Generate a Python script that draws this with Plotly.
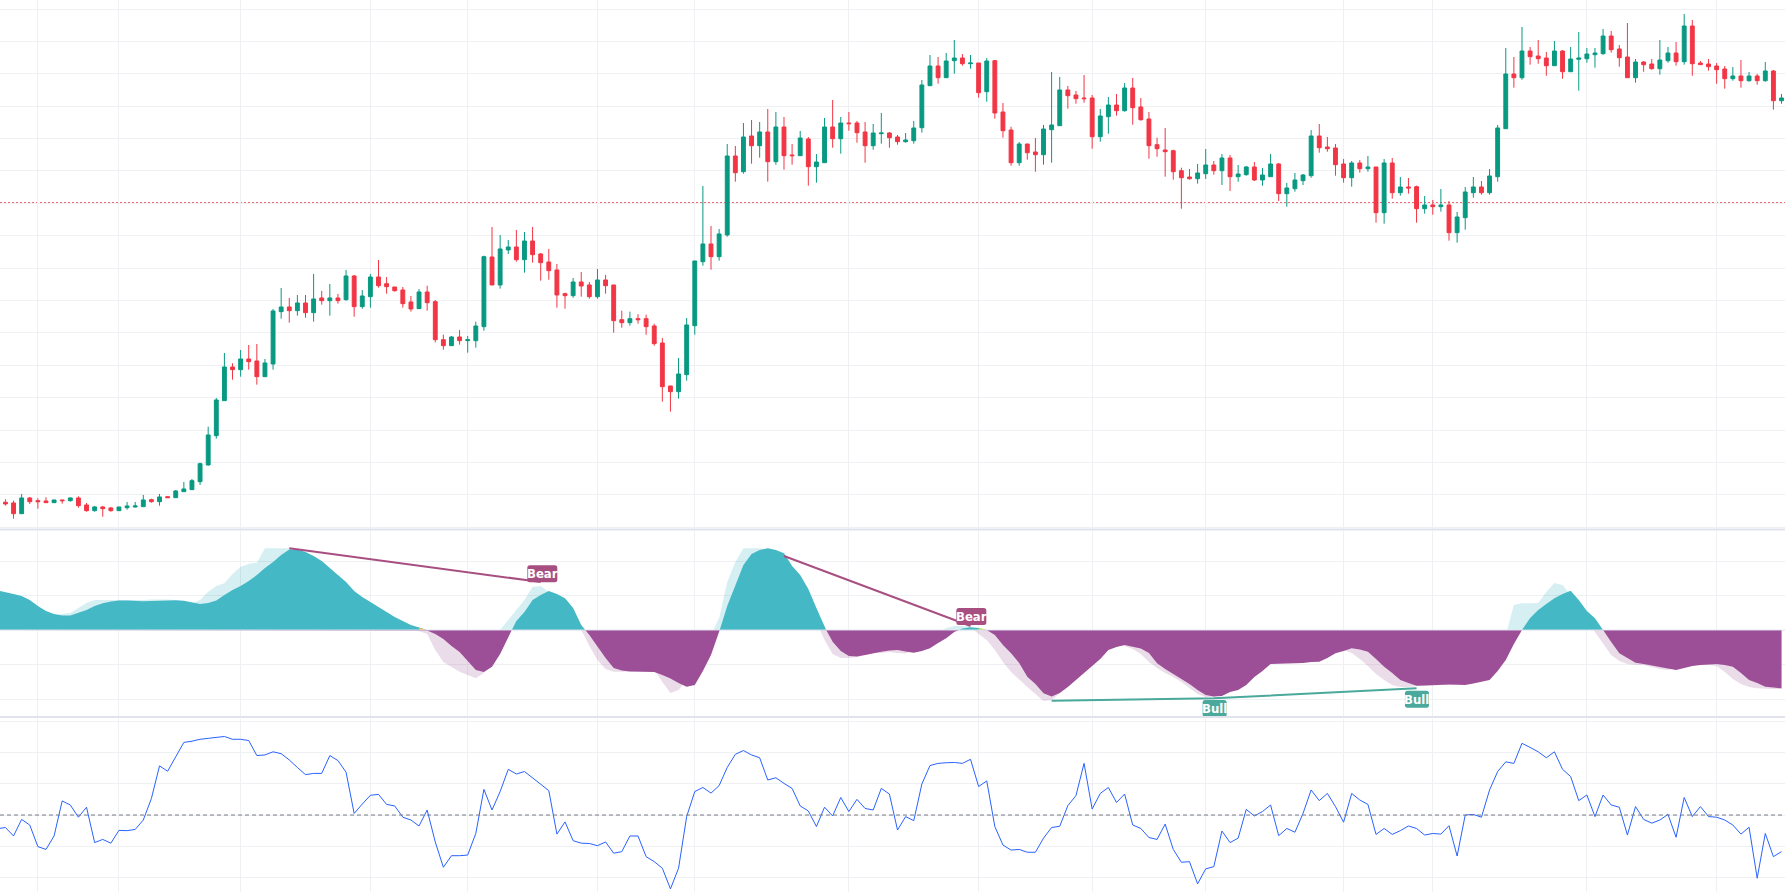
import plotly.graph_objects as go

# ---------------- data ----------------
open_ = [47.7, 47, 36.3, 52, 49.3, 49, 47.3, 50, 49.3, 52,
         45, 39.3, 43, 42, 39.3, 42.3, 43, 43.3, 50.3, 48.3,
         53.3, 52.3, 58.3, 60.3, 68.3, 85, 114.3, 149.3, 183, 180.3,
         191, 189, 173.3, 186, 238.3, 243, 239.3, 247, 237.3, 252,
         249.3, 252, 250.3, 274, 243.3, 253.3, 273, 266.3, 263, 260,
         248, 241.3, 258, 248.3, 210.3, 204.3, 213, 209.3, 209.3, 223.3,
         293, 265, 300, 303, 290.3, 309, 296, 288, 280, 256.3,
         254.3, 268, 265, 253.3, 270, 265, 230.3, 227.3, 231.3, 231.3,
         224, 207, 164, 158.3, 175.3, 224.3, 288.3, 306, 293.3, 315,
         394, 378.3, 414, 404.3, 418, 388.3, 423, 395, 394.3, 411,
         383.3, 387.3, 423, 411.3, 427, 427, 418, 404.3, 416.3, 417,
         413, 408.3, 409.3, 422.3, 464.3, 484, 472.3, 489.3, 492, 486.3,
         487, 458.3, 489.3, 438, 420, 387.3, 406, 398, 395.3, 420.3,
         424.3, 460, 455, 452, 452, 413.3, 433.3, 445, 439.3, 462,
         443, 431, 405.3, 400, 399.3, 379.3, 373, 371.3, 376.3, 385,
         379.3, 392, 373.3, 375.3, 383, 370, 373.3, 386, 356.3, 361.3,
         369.3, 374.3, 414, 403, 402, 386, 372.3, 387, 381.3, 383,
         337.3, 387, 357.3, 363, 363.3, 341.3, 345, 343.3, 345, 317.3,
         332.3, 357.3, 363, 357.3, 373.3, 421.3, 476, 472.3, 499, 494,
         492, 484.3, 499, 478.3, 490.7, 491.3, 495.3, 496.3, 514, 501,
         493, 472.3, 488, 486, 481.3, 489.3, 497, 488.3, 524, 487,
         486, 484, 481, 471.3, 474, 469.3, 474, 469.3, 479, 449.3]

high = [50.7, 49.3, 56, 53, 51.7, 52.7, 50, 50, 52.7, 53.7,
        47, 44, 44, 43, 43, 48, 48, 55, 51.3, 56,
        54, 60, 68, 71, 87.3, 123.3, 152, 197, 186.7, 200,
        205, 206, 191, 241, 262, 252, 255, 255, 276, 259,
        266, 256, 280, 275, 260, 276, 290, 273, 263, 263,
        254, 261, 264.3, 250, 215.3, 214, 220, 214, 228.3, 294.3,
        323, 315, 310, 320, 318, 323, 297, 301, 286, 257.3,
        272, 278, 268, 281, 275, 265, 239.3, 238.3, 235.7, 235.3,
        226.3, 212, 164, 192, 232, 289, 364, 324, 321, 406,
        404, 427, 430, 428, 441, 438, 433, 406, 419, 413,
        396, 432, 450, 433, 438, 429, 428, 426, 437, 418,
        415, 417, 429, 470, 495, 493, 497, 510, 496, 495,
        487, 492, 490, 447, 423.3, 408, 406, 412, 425, 478,
        473, 464, 459, 475, 455, 441, 453, 456, 467, 472,
        452, 438, 412.3, 422, 400.3, 382.3, 381, 386, 401, 389,
        396, 395, 385, 384, 388, 382, 396, 387, 367, 377,
        376, 420, 426, 413, 406, 391, 389, 390, 394, 383,
        391, 392, 373, 372, 364.3, 354, 350, 361, 349, 338,
        363, 373, 369, 381, 425, 502, 493, 523, 503, 510,
        498, 509, 500, 503, 518, 502, 502, 521, 519, 505,
        527, 491, 489, 491, 510, 503, 508, 536, 530, 489,
        491, 487, 484, 483, 490, 478, 476, 488, 480, 456]

low = [44.3, 31.3, 36.3, 46, 41.3, 47.3, 47.3, 46.3, 48.3, 42.3,
       38.3, 38.3, 33.3, 38.3, 39.3, 40.3, 42.3, 43.3, 47.3, 44.3,
       52.3, 52.3, 58.3, 60.3, 65, 84.3, 111.3, 149.3, 170.3, 173.3,
       180.3, 165.3, 173.3, 180.3, 231.3, 227.3, 234.3, 232.3, 228.3, 245.3,
       234.3, 246.3, 249.3, 233.3, 241.3, 242.3, 262.3, 256.3, 258.3, 242.3,
       238.3, 241.3, 239.3, 207.7, 200.3, 204.3, 205.3, 197.3, 202.3, 219.3,
       265, 261.3, 296, 288.3, 277.3, 287.3, 269.3, 270.3, 242.3, 241.3,
       252.3, 253.3, 251.3, 251.3, 256.3, 217.3, 222.3, 224.3, 226.3, 215.3,
       204.3, 148.3, 138.3, 151.3, 169.3, 215.3, 284.3, 280.3, 289.3, 313.3,
       368.3, 376.3, 386.3, 392.3, 368.3, 385.3, 380.3, 385.3, 394.3, 364.3,
       367.3, 387.3, 402.3, 396.3, 419.3, 407.3, 387.3, 400.3, 406.3, 402.3,
       405.3, 407.3, 406.3, 417.3, 464.3, 466.3, 472.3, 476.3, 484.3, 481.3,
       452.3, 448.3, 431.3, 412.3, 384.3, 384.3, 390.3, 378.3, 385.3, 387.3,
       424.3, 441.3, 446.3, 447.3, 401.3, 408.3, 416.3, 434.3, 438.3, 425.3,
       429.3, 391.3, 393.3, 373.3, 370.3, 341.3, 370.3, 366.3, 371, 375.3,
       365, 359, 368.3, 374.3, 369, 364.3, 373.3, 349, 343.3, 358.3,
       365, 372.3, 397.3, 398.3, 374.3, 367.3, 363.3, 377.3, 378.3, 327.3,
       326.3, 351.3, 354.3, 356.3, 327.3, 336.3, 335.3, 338.3, 309.3, 307.3,
       320.3, 352.3, 355.3, 355.3, 368.3, 421.3, 462.3, 470.3, 485.3, 486.3,
       474.3, 484.3, 471.3, 478.3, 459.3, 487.3, 482.3, 495.3, 497.3, 483.3,
       472.3, 467.3, 478.3, 480.3, 475.3, 487.3, 484.3, 485.3, 474.3, 485.3,
       479.3, 466.3, 461.3, 469.3, 462.3, 468.3, 465.3, 468.3, 440.3, 446.3]

close = [46, 36.3, 52, 48.3, 48.3, 47.3, 50, 49.3, 52, 44.3,
         39.3, 43, 41.3, 39.3, 43, 44, 44, 50, 48.3, 53,
         52.3, 59, 61, 69.3, 86.3, 115, 150, 183, 180.3, 191,
         188.3, 173.3, 187, 239, 243, 239.3, 247, 237.3, 251, 249.3,
         252, 249.3, 274, 243.3, 254, 273, 264.3, 263.3, 259.3, 246.3,
         241, 258, 247.3, 210.3, 204.3, 213, 209.3, 210.3, 224, 293.3,
         265, 301, 303, 290.3, 309, 295.3, 287.3, 279.3, 255, 254.3,
         268, 264, 253.3, 270, 264.3, 229.3, 227.3, 231.3, 230.3, 223.3,
         206.3, 163.3, 158.3, 176, 225, 289, 306, 293.3, 316, 394,
         377.3, 413, 404.3, 418, 388.3, 423, 394.3, 394.3, 412, 383.3,
         388, 423, 411.3, 427, 426.3, 417.3, 404.3, 417, 417, 412.3,
         408.3, 410, 422, 465, 484, 472.3, 489, 492, 486.3, 487,
         457.3, 489, 437, 419.3, 387.3, 406, 397.3, 395.3, 421, 425,
         460, 454.3, 451.3, 451.3, 413.3, 434, 445, 439.3, 462, 442.3,
         430.3, 404.3, 401.3, 398.3, 378.3, 372.3, 371.3, 377, 385, 379.3,
         392, 373.3, 376, 383, 370, 375, 386, 356.3, 362, 370,
         375, 414, 402.3, 401.3, 385.3, 372.3, 387, 381.3, 383, 337.3,
         387, 357.3, 363, 362, 341.3, 345, 343.3, 345, 317.3, 333,
         358, 363, 357.3, 374, 422, 476, 472.3, 499, 493.3, 491.3,
         484.3, 499, 478.3, 491, 492, 496, 497, 514, 500.3, 492.3,
         472.3, 488, 485.3, 481.3, 490, 497, 488.3, 524, 486.3, 485.3,
         483.3, 480.3, 471.3, 474, 469.3, 474, 469.3, 479, 449.3, 452]

# indicator series start one bar earlier (bar -1, just off the left edge)
osc = [39.5,
       38, 36, 34, 30, 24, 19, 16, 14.5, 14.5, 17,
       20, 24, 26.7, 28.5, 29.5, 29.5, 29, 28.7, 29, 29.5,
       30, 29.8, 29.3, 27.5, 26, 27, 29.5, 35, 40, 44,
       49, 55, 62, 68, 75, 80.5, 80.5, 78, 74, 69,
       62, 55, 48, 39, 33, 28, 23, 18, 13, 9,
       5, 2.5, -0.5, -4, -9, -16, -22, -31, -40, -42,
       -36.7, -24, -7, 9, 18, 30, 35, 39, 36, 31.7,
       22, 5, -5, -16.7, -28, -38, -40.5, -41.5, -41.7, -41.7,
       -42, -45, -48.5, -53, -56.7, -55, -41, -25, -2, 24,
       45, 65, 76, 80, 81.7, 80, 76.7, 64, 55, 41,
       22, 3, -11.7, -21, -26, -26.5, -25, -23, -21.7, -20.5,
       -20, -21.5, -22.7, -21, -18.3, -13, -8.3, -2, 1.5, 2.7,
       2, 0, -5, -15, -23.3, -33, -46.7, -54, -63.3, -66.5,
       -63, -57, -50, -43, -36.7, -29, -20, -17, -15, -17,
       -18.5, -23, -33.3, -39, -44, -48.3, -54, -60, -65, -66.5,
       -66, -62, -60, -55, -47, -41, -34, -33.7, -33.5, -33.3,
       -33, -32, -31.7, -28, -23.3, -21, -18.3, -19.5, -21.7, -29,
       -36.7, -43, -50, -53, -55.7, -55.5, -55, -54.3, -54.5, -54.8,
       -55, -53.5, -52, -50, -41, -30, -14, 0, 12, 20,
       26, 31.7, 36, 39.3, 30, 19, 11.7, 0, -12, -23.3,
       -28, -32.7, -34, -35.5, -36.7, -38.5, -40, -38, -36, -35,
       -34.5, -34, -35, -36.7, -43, -50, -53, -56.7, -57.5, -58.3]

osc_fast = [39,
            37, 34, 30, 24, 19, 16, 15, 16, 17, 22,
            27, 30, 30, 30, 30, 29.5, 29.5, 30, 30.5, 30.7,
            30.5, 30, 28, 26.7, 30, 38.3, 44, 46.7, 56, 63.3,
            66, 67.3, 81.7, 81.7, 81.7, 81.7, 79, 76, 70, 64,
            56, 49, 41, 34, 29, 24, 19, 14, 10, 6,
            3, -1, -4, -20, -32, -37, -41.7, -45, -48.3, -43,
            -20, 0, 10, 20, 30, 43, 44, 38, 33, 28,
            15, 0, -16, -30, -39, -41.7, -41.7, -41.7, -41, -40.5,
            -40, -52, -63, -60, -50, -43, -28, -5, 12, 48,
            68, 81.7, 81.7, 81.7, 80, 77, 70, 58, 42, 25,
            8, -10, -24, -28, -28, -27, -25, -23, -23, -22,
            -23, -23.5, -20, -15, -9, -3, 2, 4, 4, 3,
            -4, -10, -20, -32, -42, -50, -57, -64, -71, -70,
            -63, -55, -47, -39, -32, -24, -17, -15, -16, -19,
            -24, -32, -38, -43, -47, -52, -58, -64, -67, -67,
            -64, -60, -55, -47, -41, -35, -34, -33, -33, -32.5,
            -32, -30, -26, -22, -19, -20, -23, -29, -36, -44,
            -50, -55, -57, -57, -56, -55.5, -55, -55, -55, -54,
            -53, -51, -50, -41, -28, -5, 25, 26.7, 26.7, 27,
            38, 47, 45, 35, 22, 10, -2, -14, -25, -31,
            -34, -35, -35, -37, -39, -40, -38, -36, -35, -34.5,
            -35, -36, -42, -49, -54, -57, -58.3, -59, -59, -59]

rsi = [45.6,
       46.0, 43.3, 48.6, 46.8, 39.9, 39.0, 43.3, 54.5, 53.2, 49.3,
       52.5, 41.2, 42.2, 41.0, 45.1, 45.0, 45.4, 48.4, 55.3, 65.7,
       64.0, 68.6, 73.2, 73.6, 74.2, 74.5, 74.7, 75.1, 74.2, 74.2,
       73.8, 69.0, 69.2, 70.2, 69.6, 67.6, 65.2, 62.9, 63.3, 63.3,
       69.0, 67.4, 63.7, 50.5, 53.5, 56.3, 56.6, 53.4, 52.9, 49.3,
       48.4, 46.5, 51.6, 41.4, 33.3, 37.0, 37.0, 37.2, 44.1, 58.2,
       51.6, 57.5, 64.6, 63.1, 63.9, 61.9, 60.1, 57.8, 43.9, 47.8,
       41.8, 41.0, 40.9, 40.2, 41.4, 37.8, 38.3, 43.3, 43.3, 36.7,
       35.1, 33.0, 26.4, 33.0, 49.5, 57.5, 58.8, 57.0, 59.4, 65.2,
       69.4, 70.6, 69.2, 68.3, 61.2, 61.9, 60.1, 58.5, 52.9, 51.3,
       46.3, 52.5, 49.7, 55.6, 51.1, 55.0, 52.1, 51.6, 58.5, 56.7,
       45.2, 49.5, 48.2, 59.9, 65.8, 66.5, 66.7, 66.8, 66.5, 67.8,
       59.1, 60.9, 46.3, 40.4, 38.8, 39.0, 38.1, 38.1, 42.6, 46.0,
       46.4, 53.0, 56.2, 66.5, 51.9, 56.9, 58.8, 54.0, 56.7, 46.8,
       45.7, 42.8, 42.2, 47.1, 39.0, 34.9, 35.1, 28.0, 32.8, 33.5,
       44.9, 41.2, 42.6, 51.8, 49.7, 51.1, 53.2, 43.4, 45.7, 44.5,
       50.5, 58.0, 54.6, 56.9, 52.7, 47.7, 56.9, 54.8, 53.4, 43.8,
       45.7, 43.8, 45.0, 46.5, 45.7, 43.6, 44.1, 43.9, 46.6, 36.9,
       50.0, 50.2, 49.3, 58.0, 63.9, 67.0, 66.5, 72.9, 71.6, 70.2,
       68.3, 70.2, 64.6, 62.3, 54.6, 56.4, 49.5, 56.4, 53.2, 52.5,
       43.6, 52.7, 48.6, 47.4, 48.4, 50.2, 42.9, 55.6, 49.5, 52.7,
       49.5, 49.3, 48.4, 46.8, 43.9, 46.1, 29.8, 44.1, 36.7, 38.3]

grid_bars = [4, 14, 29, 45, 57, 73, 85, 104, 120, 134, 148, 165, 176, 195, 211]
price_level = 347
rsi_mid = 50

bear_lines = [[(35, 81.7), (66, 48)], [(96, 74), (119, 4)]]
bear_labels = [(66.2, 47.7), (119.1, 5)]
bull_line = [(129, -70.7), (149, -68.3), (174, -58.3)]
bull_labels = [(149.1, -70), (174.05, -60.7)]
# bars where the oscillator fill switches colour at a zero cross
cross_marks = [(51, 52, "#f7b44c"), (120, 121, "#c8e23c")]

# ---------------- styling ----------------
UP, DOWN = "#089981", "#f23645"
GRID = "#eef0f3"
TEAL, PURPLE = "#45b8c6", "#9c4f96"
TEAL_L, PURPLE_L = "rgba(69,184,198,0.22)", "rgba(156,79,150,0.20)"
BEAR_C, BULL_C = "#a84f82", "#4aa99c"
X_RANGE = [-0.67, 219.43]
OSC_RANGE = [-86, 99]

bars = list(range(len(open_)))
ind_bars = list(range(-1, len(open_)))


def split_sign(xs, ys):
    px, py, nx, ny = [], [], [], []
    for k in range(len(xs)):
        x, y = xs[k], ys[k]
        if k > 0:
            x0, y0 = xs[k - 1], ys[k - 1]
            if (y0 > 0 > y) or (y0 < 0 < y):
                xc = x0 + (x - x0) * y0 / (y0 - y)
                px.append(xc); py.append(0)
                nx.append(xc); ny.append(0)
        px.append(x); py.append(max(y, 0))
        nx.append(x); ny.append(min(y, 0))
    return px, py, nx, ny


fig = go.Figure()

fig.add_trace(go.Candlestick(
    x=bars, open=open_, high=high, low=low, close=close,
    increasing=dict(line=dict(color=UP, width=1), fillcolor=UP),
    decreasing=dict(line=dict(color=DOWN, width=1), fillcolor=DOWN),
    whiskerwidth=0, hoverinfo="skip", showlegend=False,
    xaxis="x", yaxis="y"))

for series, cpos, cneg in ((osc_fast, TEAL_L, PURPLE_L), (osc, TEAL, PURPLE)):
    px, py, nx, ny = split_sign(ind_bars, series)
    fig.add_trace(go.Scatter(x=px, y=py, mode="lines", line=dict(width=0, color=cpos),
                             fill="tozeroy", fillcolor=cpos, hoverinfo="skip",
                             showlegend=False, xaxis="x2", yaxis="y2"))
    fig.add_trace(go.Scatter(x=nx, y=ny, mode="lines", line=dict(width=0, color=cneg),
                             fill="tozeroy", fillcolor=cneg, hoverinfo="skip",
                             showlegend=False, xaxis="x2", yaxis="y2"))

for (b0, b1, col) in cross_marks:
    k0, k1 = ind_bars.index(b0), ind_bars.index(b1)
    y0, y1 = osc[k0], osc[k1]
    if y0 > 0 > y1 or y0 < 0 < y1:
        xc = b0 + (b1 - b0) * y0 / (y0 - y1)
        xs, ys = [b0, xc], [y0, 0]
    else:
        xs, ys = [b0, b1], [y0, y1]
    fig.add_trace(go.Scatter(x=xs, y=ys, mode="lines", line=dict(width=0, color=col),
                             fill="tozeroy", fillcolor=col, hoverinfo="skip",
                             showlegend=False, xaxis="x2", yaxis="y2"))

for seg in bear_lines:
    fig.add_trace(go.Scatter(x=[p[0] for p in seg], y=[p[1] for p in seg], mode="lines",
                             line=dict(color=BEAR_C, width=2), hoverinfo="skip",
                             showlegend=False, xaxis="x2", yaxis="y2"))
fig.add_trace(go.Scatter(x=[p[0] for p in bull_line], y=[p[1] for p in bull_line], mode="lines",
                         line=dict(color=BULL_C, width=2), hoverinfo="skip",
                         showlegend=False, xaxis="x2", yaxis="y2"))

fig.add_trace(go.Scatter(x=ind_bars, y=rsi, mode="lines", line=dict(color="#2962ff", width=1),
                         hoverinfo="skip", showlegend=False, xaxis="x3", yaxis="y3"))

# label boxes: width in pixels around the bar, height in oscillator units
# (the oscillator pane has about 1 unit per pixel, so 17 units ~ 17 px)
LABEL_H = 17


def label_path(w, y_lo, y_hi, r):
    a = w / 2
    rr = r  # radius in both px (x) and units (y)
    return (f"M {-a + rr},{y_lo} L {a - rr},{y_lo} Q {a},{y_lo} {a},{y_lo + rr} "
            f"L {a},{y_hi - rr} Q {a},{y_hi} {a - rr},{y_hi} L {-a + rr},{y_hi} "
            f"Q {-a},{y_hi} {-a},{y_hi - rr} L {-a},{y_lo + rr} Q {-a},{y_lo} {-a + rr},{y_lo} Z")


label_font = dict(family="Liberation Sans Narrow, DejaVu Sans Condensed, Arial Narrow, sans-serif",
                  size=13, color="white")
annotations, label_shapes = [], []
for text, labels, col, w, above in (("Bear", bear_labels, BEAR_C, 30, True),
                                    ("Bull", bull_labels, BULL_C, 24, False)):
    for (bx, by) in labels:
        y_lo, y_hi = (by, by + LABEL_H) if above else (by - LABEL_H, by)
        label_shapes.append(dict(type="path", xref="x2", yref="y2", xsizemode="pixel",
                                 xanchor=bx, path=label_path(w, y_lo, y_hi, 2.5),
                                 fillcolor=col, line=dict(width=0), layer="above"))
        annotations.append(dict(x=bx, y=(y_lo + y_hi) / 2, xref="x2", yref="y2",
                                text=f"<b>{text}</b>", showarrow=False,
                                xanchor="center", yanchor="middle", font=label_font))

shapes = [
    dict(type="line", xref="paper", x0=0, x1=1, yref="y", y0=price_level, y1=price_level,
         line=dict(color=DOWN, width=1.5, dash="2px,2px"), layer="below"),
    dict(type="line", xref="paper", x0=0, x1=1, yref="y2", y0=0, y1=0,
         line=dict(color="rgba(225,230,240,0.9)", width=1), layer="above"),
    dict(type="line", xref="paper", x0=0, x1=1, yref="y3", y0=rsi_mid, y1=rsi_mid,
         line=dict(color="#787b86", width=1, dash="4px,3px"), layer="above"),
    dict(type="line", xref="paper", x0=0, x1=1, yref="paper", y0=0.4063, y1=0.4063,
         line=dict(color="#e0e3eb", width=2), layer="above"),
    dict(type="line", xref="paper", x0=0, x1=1, yref="paper", y0=0.1962, y1=0.1962,
         line=dict(color="#e0e3eb", width=2), layer="above"),
] + label_shapes

xcommon = dict(range=X_RANGE, tickmode="array", tickvals=grid_bars, showticklabels=False,
               showgrid=True, gridcolor=GRID, gridwidth=1, zeroline=False, showline=False,
               ticks="", fixedrange=True)
ycommon = dict(showticklabels=False, showgrid=True, gridcolor=GRID, gridwidth=1,
               zeroline=False, showline=False, ticks="", fixedrange=True, tickmode="linear")

fig.update_layout(
    width=1785, height=892, margin=dict(l=0, r=0, t=0, b=0),
    paper_bgcolor="white", plot_bgcolor="white", showlegend=False,
    boxgap=0.32,
    xaxis=dict(**xcommon, domain=[0, 1], anchor="y", rangeslider=dict(visible=False)),
    xaxis2=dict(**xcommon, domain=[0, 1], anchor="y2"),
    xaxis3=dict(**xcommon, domain=[0, 1], anchor="y3"),
    yaxis=dict(**ycommon, domain=[0.407, 1], range=[21, 550], tick0=541, dtick=32.4),
    yaxis2=dict(**ycommon, domain=[0.1973, 0.4047], range=OSC_RANGE, tick0=0, dtick=34.5),
    yaxis3=dict(**ycommon, domain=[0, 0.1939], range=[25.4, 80.67], tick0=50, dtick=10),
    annotations=annotations, shapes=shapes,
)

fig.write_html("out.html")
